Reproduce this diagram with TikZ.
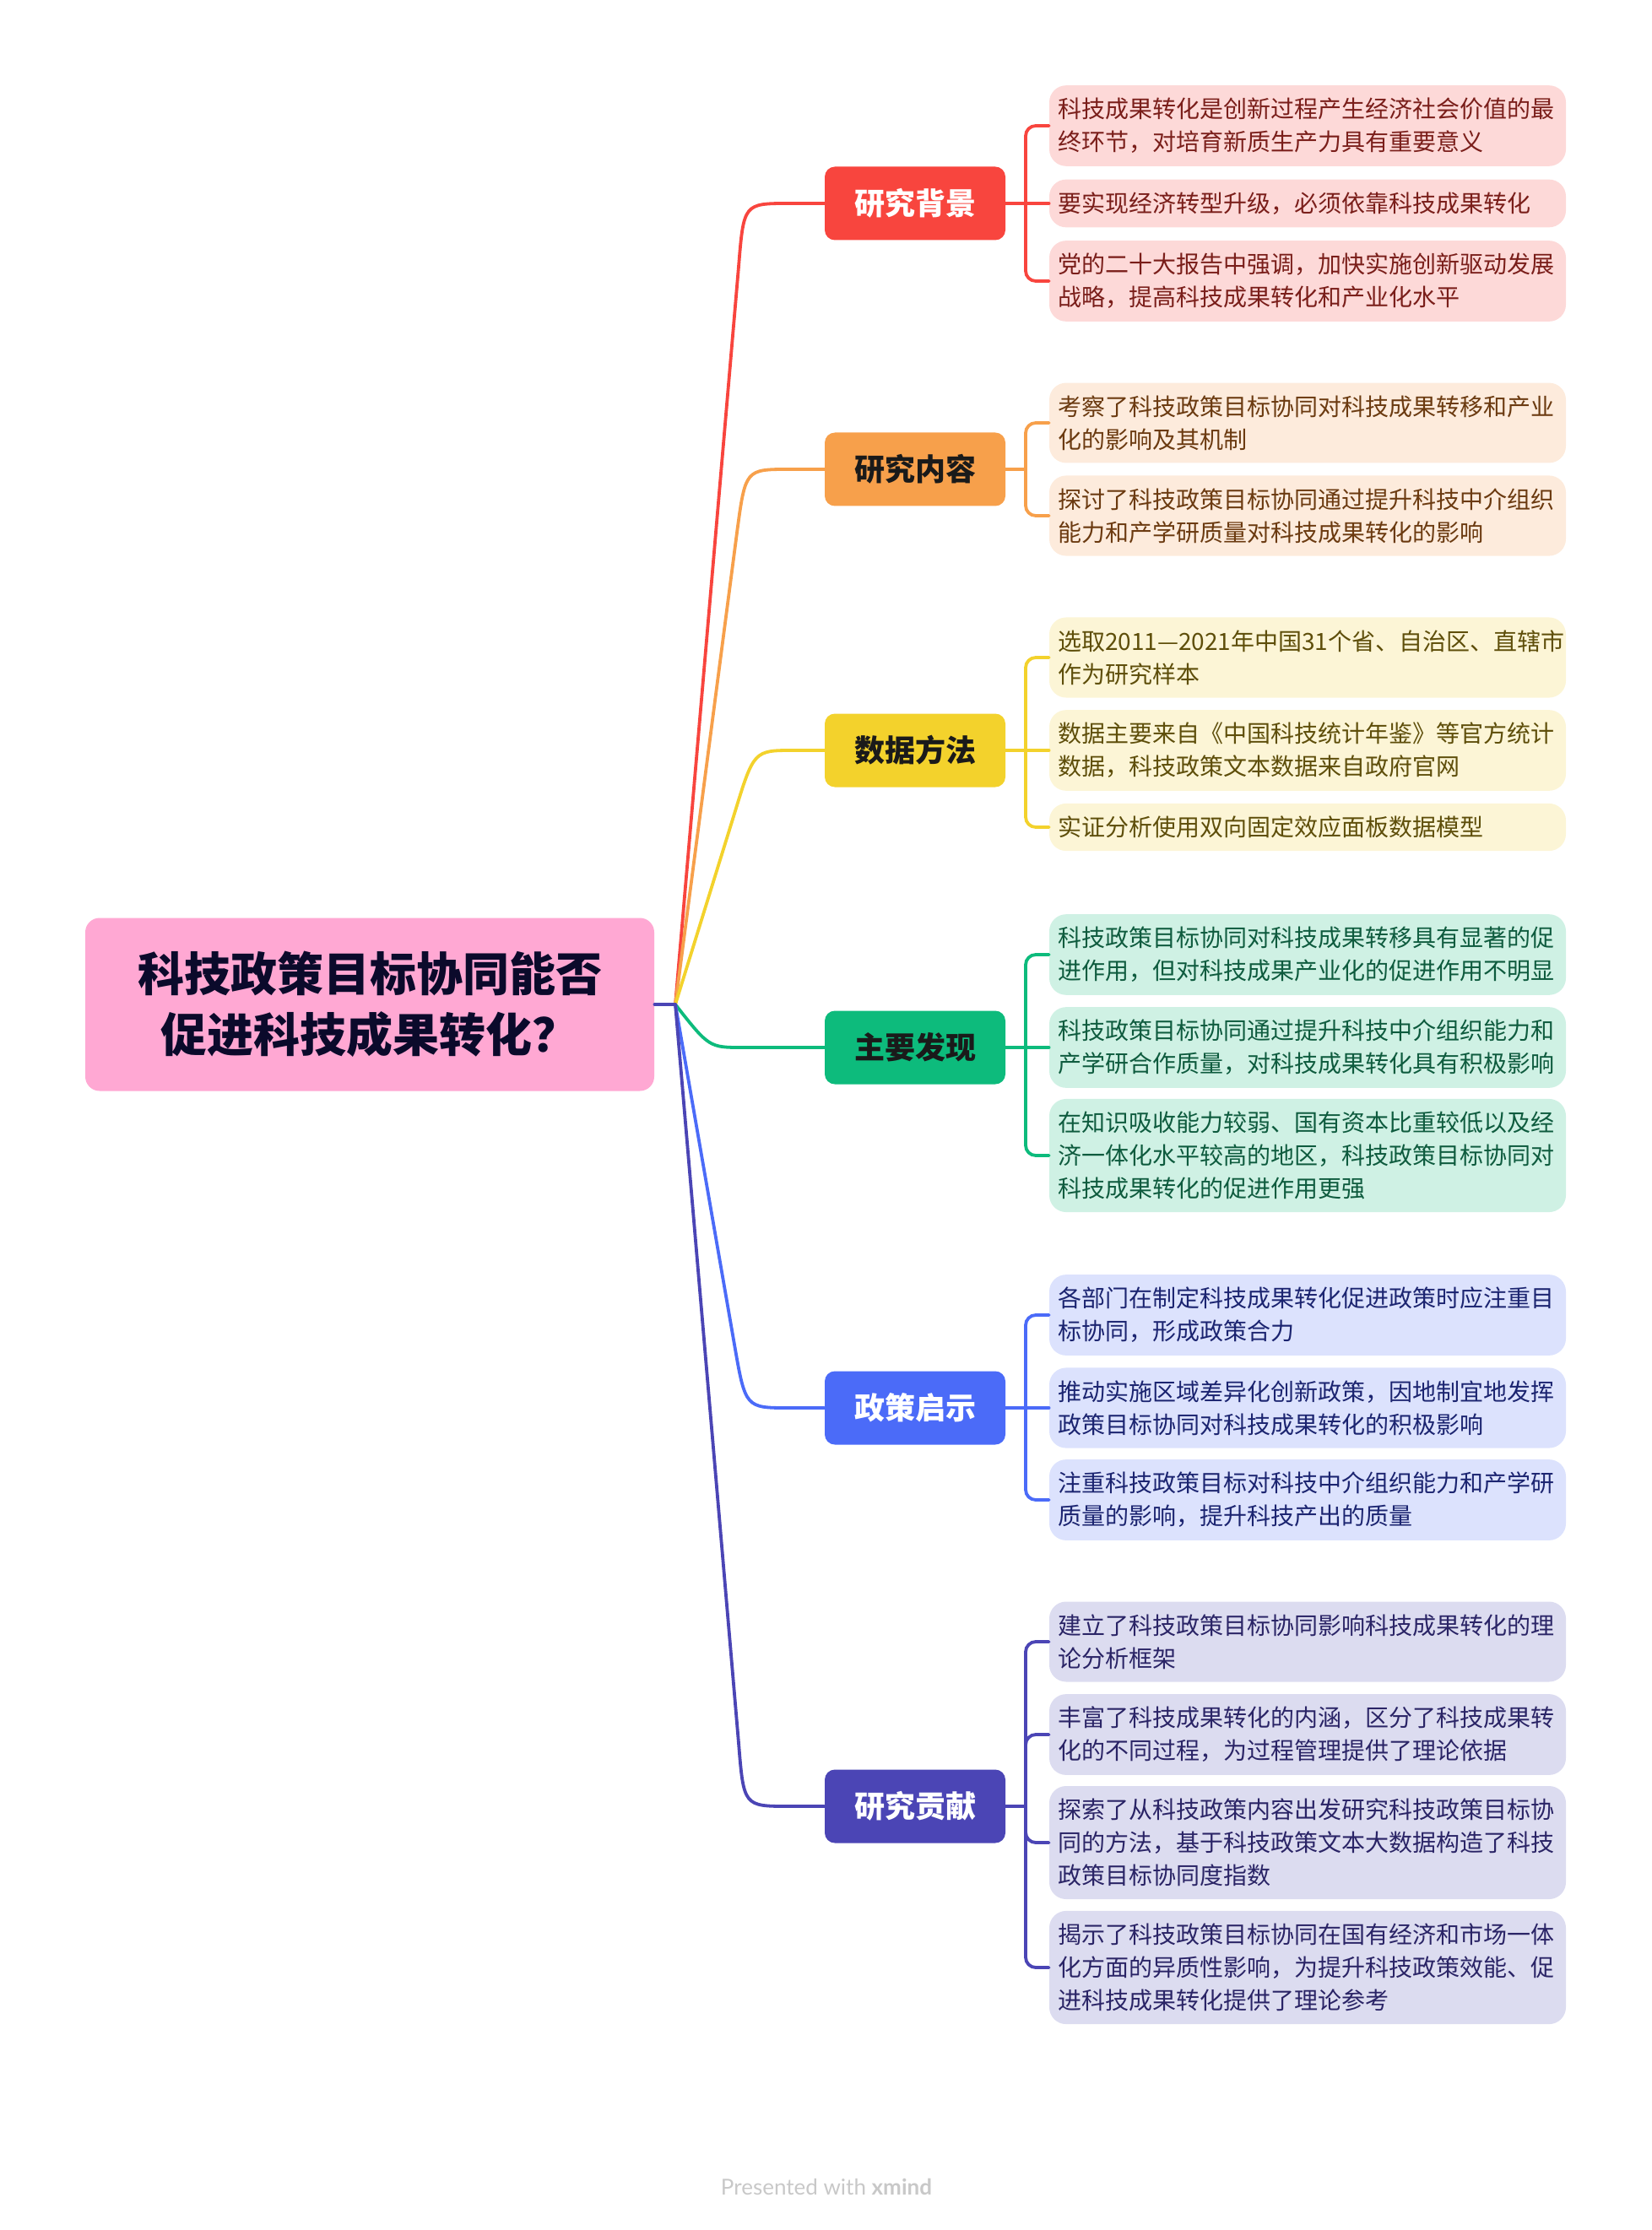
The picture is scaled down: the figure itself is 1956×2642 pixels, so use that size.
\documentclass[tikz,border=0pt]{standalone}
\usepackage{fontspec}
\setmainfont{Noto Sans CJK SC}
\newfontfamily\rootfont{Noto Sans CJK SC Black}
\newfontfamily\footfont{Lato}

% branch colours
\definecolor{rootC}{HTML}{FFA8D3}
\definecolor{rootT}{HTML}{0B0A2B}
\definecolor{redC}{HTML}{F8453E}
\definecolor{redL}{HTML}{FDD9D8}
\definecolor{redT}{HTML}{7A1E1A}
\definecolor{oraC}{HTML}{F7A04B}
\definecolor{oraL}{HTML}{FDEBDC}
\definecolor{oraT}{HTML}{6B3A10}
\definecolor{yelC}{HTML}{F3D22C}
\definecolor{yelL}{HTML}{FCF5D6}
\definecolor{yelT}{HTML}{5E4E0A}
\definecolor{grnC}{HTML}{0DBB7C}
\definecolor{grnL}{HTML}{CFF1E4}
\definecolor{grnT}{HTML}{0E5B3E}
\definecolor{bluC}{HTML}{4B6BF8}
\definecolor{bluL}{HTML}{DCE2FD}
\definecolor{bluT}{HTML}{1B2470}
\definecolor{purC}{HTML}{4B45B5}
\definecolor{purL}{HTML}{DCDCF0}
\definecolor{purT}{HTML}{2A2466}
\definecolor{darkT}{HTML}{1A1A1A}
\definecolor{footC}{HTML}{C8C8C8}

\begin{document}
\begin{tikzpicture}[x=0.5pt,y=-0.5pt,
    root/.style={fill=rootC, rounded corners=8.5pt, minimum width=337pt, minimum height=102.5pt,
        align=center, text=rootT, font=\rootfont\fontsize{27.5pt}{36pt}\selectfont},
    topic/.style={rounded corners=6pt, minimum width=107pt, minimum height=43.5pt,
        font=\bfseries\fontsize{18pt}{22pt}\selectfont},
    leaf/.style={rounded corners=10pt, text width=296pt, inner xsep=5pt, inner ysep=7.5pt,
        align=left, font=\fontsize{14pt}{19.5pt}\selectfont},
    link/.style={line width=1.9pt, line cap=round},
    sub/.style={link, rounded corners=6pt}]
    \useasboundingbox (0,0) rectangle (1956,2642);

    % Root
    \node[root] (root) at (438,1190) {科技政策目标协同能否\\促进科技成果转化？};
    \coordinate (J) at (800,1190);

    % Branches
    \node[topic, fill=redC, text=white] (bA) at (1084,241) {研究背景};
    \node[topic, fill=oraC, text=darkT] (bB) at (1084,556) {研究内容};
    \node[topic, fill=yelC, text=darkT] (bC) at (1084,889) {数据方法};
    \node[topic, fill=grnC, text=darkT] (bD) at (1084,1241) {主要发现};
    \node[topic, fill=bluC, text=white] (bE) at (1084,1668) {政策启示};
    \node[topic, fill=purC, text=white] (bF) at (1084,2140) {研究贡献};

    % Leaves
    \node[leaf, fill=redL, text=redT] (a1) at (1549,149) {科技成果转化是创新过程产生经济社会价值的最\\终环节，对培育新质生产力具有重要意义};
    \node[leaf, fill=redL, text=redT] (a2) at (1549,241) {要实现经济转型升级，必须依靠科技成果转化};
    \node[leaf, fill=redL, text=redT] (a3) at (1549,333) {党的二十大报告中强调，加快实施创新驱动发展\\战略，提高科技成果转化和产业化水平};

    \node[leaf, fill=oraL, text=oraT] (b1) at (1549,501) {考察了科技政策目标协同对科技成果转移和产业\\化的影响及其机制};
    \node[leaf, fill=oraL, text=oraT] (b2) at (1549,611) {探讨了科技政策目标协同通过提升科技中介组织\\能力和产学研质量对科技成果转化的影响};

    \node[leaf, fill=yelL, text=yelT] (c1) at (1549,779) {\mbox{选取2011—2021年中国31个省、自治区、直辖市}\\作为研究样本};
    \node[leaf, fill=yelL, text=yelT] (c2) at (1549,889) {数据主要来自《中国科技统计年鉴》等官方统计\\数据，科技政策文本数据来自政府官网};
    \node[leaf, fill=yelL, text=yelT] (c3) at (1549,980) {实证分析使用双向固定效应面板数据模型};

    \node[leaf, fill=grnL, text=grnT] (d1) at (1549,1131) {科技政策目标协同对科技成果转移具有显著的促\\进作用，但对科技成果产业化的促进作用不明显};
    \node[leaf, fill=grnL, text=grnT] (d2) at (1549,1241) {科技政策目标协同通过提升科技中介组织能力和\\产学研合作质量，对科技成果转化具有积极影响};
    \node[leaf, fill=grnL, text=grnT] (d3) at (1549,1369) {在知识吸收能力较弱、国有资本比重较低以及经\\济一体化水平较高的地区，科技政策目标协同对\\科技成果转化的促进作用更强};

    \node[leaf, fill=bluL, text=bluT] (e1) at (1549,1558) {各部门在制定科技成果转化促进政策时应注重目\\标协同，形成政策合力};
    \node[leaf, fill=bluL, text=bluT] (e2) at (1549,1668) {推动实施区域差异化创新政策，因地制宜地发挥\\政策目标协同对科技成果转化的积极影响};
    \node[leaf, fill=bluL, text=bluT] (e3) at (1549,1777) {注重科技政策目标对科技中介组织能力和产学研\\质量的影响，提升科技产出的质量};

    \node[leaf, fill=purL, text=purT] (f1) at (1549,1945) {建立了科技政策目标协同影响科技成果转化的理\\论分析框架};
    \node[leaf, fill=purL, text=purT] (f2) at (1549,2055) {丰富了科技成果转化的内涵，区分了科技成果转\\化的不同过程，为过程管理提供了理论依据};
    \node[leaf, fill=purL, text=purT] (f3) at (1549,2183) {探索了从科技政策内容出发研究科技政策目标协\\同的方法，基于科技政策文本大数据构造了科技\\政策目标协同度指数};
    \node[leaf, fill=purL, text=purT] (f4) at (1549,2331) {揭示了科技政策目标协同在国有经济和市场一体\\化方面的异质性影响，为提升科技政策效能、促\\进科技成果转化提供了理论参考};

    % Root to branches
    \draw[link, redC] (J) -- (875,316) .. controls (881,241) .. (935,241) -- (bA.west);
    \draw[link, oraC] (J) -- (873,631) .. controls (883,556) .. (935,556) -- (bB.west);
    \draw[link, yelC] (J) -- (870,964) .. controls (893,889) .. (940,889) -- (bC.west);
    \draw[link, grnC] (J) .. controls (840,1241) .. (880,1241) -- (bD.west);
    \draw[link, bluC] (J) -- (870,1593) .. controls (883,1668) .. (935,1668) -- (bE.west);
    \draw[link, purC] (J) -- (875,2065) .. controls (881,2140) .. (935,2140) -- (bF.west);
    \draw[link, purC] (root.east) -- (J);

    % Branches to leaves
    \coordinate (fA) at (1215,241);
    \coordinate (fB) at (1215,556);
    \coordinate (fC) at (1215,889);
    \coordinate (fD) at (1215,1241);
    \coordinate (fE) at (1215,1668);
    \coordinate (fF) at (1215,2140);

    \draw[link, redC] (bA.east) -- (fA);
    \draw[sub, redC] (fA) |- (a1.west);
    \draw[link, redC] (fA) -- (a2.west);
    \draw[sub, redC] (fA) |- (a3.west);

    \draw[link, oraC] (bB.east) -- (fB);
    \draw[sub, oraC] (fB) |- (b1.west);
    \draw[sub, oraC] (fB) |- (b2.west);

    \draw[link, yelC] (bC.east) -- (fC);
    \draw[sub, yelC] (fC) |- (c1.west);
    \draw[link, yelC] (fC) -- (c2.west);
    \draw[sub, yelC] (fC) |- (c3.west);

    \draw[link, grnC] (bD.east) -- (fD);
    \draw[sub, grnC] (fD) |- (d1.west);
    \draw[link, grnC] (fD) -- (d2.west);
    \draw[sub, grnC] (fD) |- (d3.west);

    \draw[link, bluC] (bE.east) -- (fE);
    \draw[sub, bluC] (fE) |- (e1.west);
    \draw[link, bluC] (fE) -- (e2.west);
    \draw[sub, bluC] (fE) |- (e3.west);

    \draw[link, purC] (bF.east) -- (fF);
    \draw[sub, purC] (fF) |- (f1.west);
    \draw[sub, purC] (fF) |- (f2.west);
    \draw[sub, purC] (fF) |- (f3.west);
    \draw[sub, purC] (fF) |- (f4.west);

    % Footer
    \node[text=footC, font=\footfont\fontsize{13pt}{15pt}\selectfont] (foot) at (979,2591) {Presented with \textbf{xmind}};
\end{tikzpicture}
\end{document}
